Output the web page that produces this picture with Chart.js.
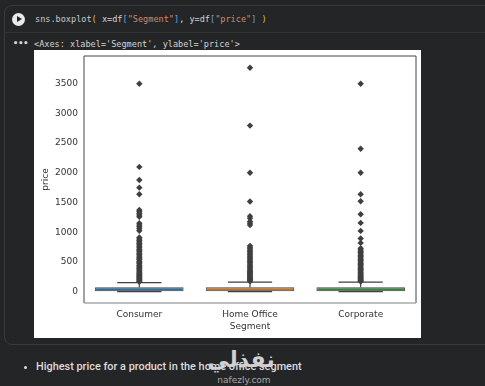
<!DOCTYPE html>
<html>
<head>
<meta charset="utf-8">
<script src="https://cdn.jsdelivr.net/npm/chart.js@4"></script>
<style>
    html, body { margin: 0; width: 485px; height: 386px; overflow: hidden; background: #242526; }
    #cell { position: absolute; left: 4px; top: 5px; width: 500px; height: 340px; box-sizing: border-box; border: 1px solid #3a3b3d; border-radius: 8px; }
    #sep { position: absolute; left: 4px; top: 32px; width: 481px; height: 1px; background: #323335; }
    #run { position: absolute; left: 12px; top: 13px; width: 13px; height: 13px; border-radius: 50%; background: #e8eaed; }
    #run:after { content: ""; position: absolute; left: 5px; top: 3px; border-left: 5px solid #242526; border-top: 3.5px solid transparent; border-bottom: 3.5px solid transparent; }
    .mono { position: absolute; font: 8.55px "DejaVu Sans Mono", monospace; white-space: pre; color: #d4d4d4; }
    #chartBox { position: absolute; left: 34px; top: 50px; width: 387px; height: 288px; background: #fff; filter: blur(0.35px); }
    #note { position: absolute; left: 36px; top: 360px; font: 500 10.9px Roboto, sans-serif; color: #dcdcdc; white-space: pre; }
    #dot { position: absolute; left: 24px; top: 366px; width: 3px; height: 3px; border-radius: 50%; background: #dcdcdc; }
    #mark1 { position: absolute; left: 201px; top: 347px; width: 80px; text-align: center; font: bold 22px "DejaVu Sans", sans-serif; color: #d0d0d0; }
    #mark2 { position: absolute; left: 214px; top: 375px; width: 60px; text-align: center; font: 9px "DejaVu Sans", sans-serif; color: #a8a8a8; }
</style>
</head>
<body>

<div id="cell"></div>
<div id="sep"></div>
<div id="run"></div>
<div class="mono" style="left:35px;top:14px"><span style="color:#c8c8c8">sns.boxplot</span><span style="color:#e8b93c">(</span> x=df<span style="color:#5aa6e6">[</span><span style="color:#d18b6c">"Segment"</span><span style="color:#5aa6e6">]</span>, y=df<span style="color:#5aa6e6">[</span><span style="color:#d18b6c">"price"</span><span style="color:#5aa6e6">]</span> <span style="color:#e8b93c">)</span></div>
<div class="mono" style="left:13px;top:38px;font-weight:bold">•••</div>
<div class="mono" style="left:34px;top:39px">&lt;Axes: xlabel='Segment', ylabel='price'&gt;</div>

<div id="chartBox"><canvas id="boxChart" width="387" height="288"></canvas></div>

<div id="dot"></div>
<div id="note">Highest price for a product in the home office segment</div>
<div id="mark1" dir="rtl">نفذلي</div>
<div id="mark2">nafezly.com</div>

<script>

/* =========================
   DATA
========================= */

const segments = ["Consumer", "Home Office", "Corporate"];
const yTicks = [0, 500, 1000, 1500, 2000, 2500, 3000, 3500];

const boxLow = [5, 5, 5];
const boxHigh = [75, 75, 75];
const capLow = [1, 1, 1];
const capHigh = [150, 160, 160];

const consumerOutliers = [3500, 2100, 1880, 1750, 1640, 1375, 1350, 1320, 1290, 1260, 1150, 1120, 1090, 1060, 1025,
    910, 885, 860, 835, 810, 790, 765, 740, 715, 695, 670, 645, 625, 600, 580, 555, 535, 510, 490, 470, 445, 425,
    400, 385, 365, 345, 325, 305, 290, 270, 255, 240, 225, 210, 195, 180, 165];
const homeOfficeOutliers = [3770, 2795, 2000, 1518, 1270, 1235, 1180, 1150, 1120,
    770, 745, 720, 695, 670, 650, 625, 600, 580, 555, 530, 510, 490, 465, 445, 420, 400, 380, 360, 340,
    320, 305, 285, 270, 250, 235, 220, 205, 190, 175];
const corporateOutliers = [3500, 2405, 2000, 1640, 1522, 1303, 1157, 1022, 893, 820,
    730, 705, 680, 660, 635, 610, 590, 565, 545, 520, 500, 475, 455, 435, 410, 390, 370, 350, 330,
    315, 295, 280, 260, 245, 230, 215, 200, 185, 170];

const boxColors = ["#2f6d98", "#b9752f", "#3a8040"];
const lineColor = "#3f3f3f";

/* =========================
   DATASETS
========================= */

const capHalf = 0.2;
const datasets = [];

// whisker and cap lines go through the same linear scale as the bars
function addLine(points) {
    datasets.push({
        type: "line",
        data: points,
        borderColor: lineColor,
        borderWidth: 1.2,
        pointRadius: 0,
        order: 2
    });
}

segments.forEach((name, i) => {

    addLine([{ x: i, y: capLow[i] }, { x: i, y: boxLow[i] }]);
    addLine([{ x: i, y: boxHigh[i] }, { x: i, y: capHigh[i] }]);
    addLine([{ x: i - capHalf, y: capLow[i] }, { x: i + capHalf, y: capLow[i] }]);
    addLine([{ x: i - capHalf, y: capHigh[i] }, { x: i + capHalf, y: capHigh[i] }]);
});

datasets.push({
    type: "bar",
    data: segments.map((name, i) => ({ x: i, y: [boxLow[i], boxHigh[i]] })),
    backgroundColor: boxColors,
    borderColor: "#444",
    borderWidth: 1,
    borderSkipped: false,
    barPercentage: 0.8,
    categoryPercentage: 1,
    order: 3
});

[consumerOutliers, homeOfficeOutliers, corporateOutliers].forEach((values, i) => {

    datasets.push({
        type: "scatter",
        data: values.map(v => ({ x: i, y: v })),
        pointStyle: "rectRot",
        pointRadius: 3.2,
        backgroundColor: lineColor,
        borderColor: lineColor,
        borderWidth: 0,
        order: 1
    });
});

/* =========================
   CHART
========================= */

new Chart(document.getElementById("boxChart"), {

    data: { datasets: datasets },

    options: {

        responsive: false,
        animation: false,

        layout: {
            padding: { top: 6, right: 5, left: 6, bottom: 6 }
        },

        plugins: {
            legend: { display: false },
            tooltip: { enabled: false }
        },

        scales: {

            x: {
                type: "linear",
                min: -0.5,
                max: 2.5,
                offset: false,
                afterBuildTicks: axis => {
                    axis.ticks = segments.map((name, i) => ({ value: i }));
                },
                afterFit: axis => { axis.height = 29; },
                grid: { display: false, drawTicks: true, tickLength: 3, tickColor: "#777" },
                border: { display: false },
                ticks: {
                    autoSkip: false,
                    maxRotation: 0,
                    padding: 3,
                    color: "#333",
                    font: { family: "DejaVu Sans", size: 9 },
                    callback: value => segments[value]
                },
                title: {
                    display: true,
                    text: "Segment",
                    color: "#333",
                    padding: 0,
                    font: { family: "DejaVu Sans", size: 9 }
                }
            },

            y: {
                min: -192,
                max: 3967,
                afterBuildTicks: axis => {
                    axis.ticks = yTicks.map(v => ({ value: v }));
                },
                afterFit: axis => {
                    axis.width = 44;
                    axis.paddingTop = 0;
                    axis.paddingBottom = 0;
                },
                grid: { display: false, tickLength: 3, tickColor: "#777" },
                border: { display: false },
                ticks: {
                    padding: 3,
                    color: "#333",
                    font: { family: "DejaVu Sans", size: 9 },
                    callback: value => String(value)
                },
                title: {
                    display: true,
                    text: "price",
                    color: "#333",
                    padding: 0,
                    font: { family: "DejaVu Sans", size: 9 }
                }
            }
        }
    },

    plugins: [{
        // seaborn frame: dark top and sides, paler bottom edge as in the screenshot
        id: "frame",
        afterDraw(chart) {
            const { ctx, chartArea: a } = chart;
            ctx.save();
            ctx.lineWidth = 1;
            ctx.strokeStyle = "#444";
            ctx.beginPath();
            ctx.moveTo(a.left, a.bottom);
            ctx.lineTo(a.left, a.top);
            ctx.lineTo(a.right, a.top);
            ctx.lineTo(a.right, a.bottom);
            ctx.stroke();
            ctx.strokeStyle = "#aaa";
            ctx.lineWidth = 1.5;
            ctx.beginPath();
            ctx.moveTo(a.left, a.bottom);
            ctx.lineTo(a.right, a.bottom);
            ctx.stroke();
            ctx.restore();
        }
    }]
});

</script>
</body>
</html>
